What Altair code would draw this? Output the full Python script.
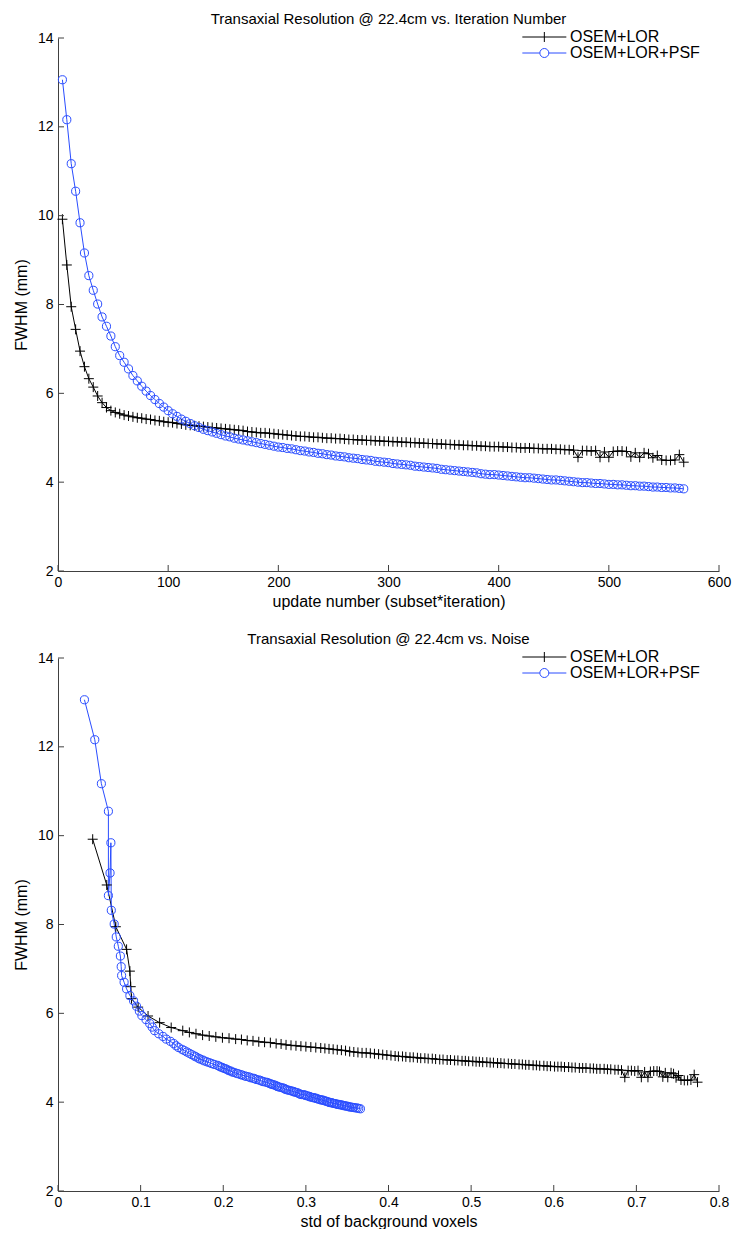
import altair as alt
import pandas as pd

SERIES = ["OSEM+LOR", "OSEM+LOR+PSF"]
UPDATE = list(range(4, 572, 4))

FWHM_LOR = [
    9.92, 8.89, 7.95, 7.44, 6.95, 6.60, 6.33, 6.14, 5.94, 5.79,
    5.68, 5.61, 5.57, 5.54, 5.51, 5.49, 5.47, 5.45, 5.44, 5.42,
    5.41, 5.39, 5.38, 5.36, 5.35, 5.34, 5.32, 5.31, 5.29, 5.28,
    5.27, 5.26, 5.25, 5.24, 5.23, 5.22, 5.21, 5.20, 5.19, 5.18,
    5.17, 5.16, 5.14, 5.13, 5.12, 5.11, 5.11, 5.10, 5.09, 5.08,
    5.07, 5.06, 5.05, 5.04, 5.03, 5.03, 5.02, 5.01, 5.01, 5.00,
    4.99, 4.99, 4.98, 4.98, 4.97, 4.96, 4.96, 4.95, 4.95, 4.94,
    4.94, 4.93, 4.93, 4.92, 4.92, 4.91, 4.91, 4.90, 4.90, 4.89,
    4.89, 4.88, 4.88, 4.87, 4.87, 4.86, 4.86, 4.85, 4.85, 4.84,
    4.84, 4.83, 4.83, 4.82, 4.82, 4.81, 4.81, 4.80, 4.80, 4.80,
    4.79, 4.79, 4.78, 4.78, 4.77, 4.77, 4.77, 4.76, 4.76, 4.75,
    4.75, 4.75, 4.74, 4.74, 4.73, 4.73, 4.72, 4.56, 4.71, 4.71,
    4.70, 4.71, 4.56, 4.68, 4.56, 4.69, 4.70, 4.70, 4.69, 4.57,
    4.66, 4.56, 4.66, 4.64, 4.55, 4.60, 4.50, 4.49, 4.49, 4.50,
    4.62, 4.45,
]

FWHM_PSF = [
    13.06, 12.16, 11.17, 10.55, 9.84, 9.16, 8.65, 8.32, 8.01, 7.72,
    7.51, 7.29, 7.05, 6.85, 6.70, 6.55, 6.40, 6.28, 6.16, 6.05,
    5.95, 5.86, 5.77, 5.69, 5.61, 5.54, 5.48, 5.42, 5.37, 5.32,
    5.27, 5.23, 5.19, 5.16, 5.13, 5.10, 5.07, 5.04, 5.02, 4.99,
    4.97, 4.95, 4.93, 4.91, 4.89, 4.87, 4.85, 4.83, 4.81, 4.79,
    4.78, 4.76, 4.75, 4.73,
    4.71, 4.70, 4.68, 4.67, 4.65, 4.64, 4.62, 4.61, 4.59, 4.58,
    4.57, 4.55, 4.54, 4.53, 4.51, 4.50, 4.49, 4.47, 4.46,
    4.45, 4.44, 4.42, 4.41, 4.40, 4.39, 4.38, 4.36, 4.35, 4.34,
    4.33, 4.32, 4.31, 4.29, 4.28, 4.27, 4.26, 4.25, 4.24, 4.23,
    4.22, 4.21, 4.19,
    4.18, 4.17, 4.17, 4.16, 4.15, 4.14, 4.13, 4.12, 4.11, 4.10,
    4.10, 4.09, 4.08, 4.07, 4.06, 4.05, 4.05, 4.04, 4.03, 4.02,
    4.01, 4.00, 3.99,
    3.99, 3.98, 3.97, 3.97, 3.96, 3.95, 3.95, 3.94, 3.94, 3.93,
    3.92, 3.92, 3.91, 3.91, 3.90, 3.89, 3.89, 3.88, 3.88, 3.87,
    3.87, 3.86, 3.85,
]

NOISE_LOR = [
    0.042, 0.059, 0.070, 0.083, 0.087, 0.088, 0.089, 0.097, 0.109, 0.123,
    0.137, 0.151,
    0.159, 0.167, 0.175, 0.183, 0.191, 0.199, 0.207, 0.215, 0.222, 0.229,
    0.236, 0.243, 0.250, 0.257, 0.264, 0.270, 0.276, 0.282, 0.288, 0.294,
    0.300, 0.306, 0.312, 0.318, 0.323, 0.328, 0.333, 0.338, 0.343, 0.348,
    0.353, 0.358, 0.363, 0.368, 0.373, 0.378, 0.383, 0.388, 0.393, 0.398,
    0.403, 0.408,
    0.412, 0.417, 0.421, 0.426, 0.430, 0.435, 0.439, 0.444, 0.448, 0.453,
    0.457, 0.462, 0.466, 0.471, 0.475, 0.480, 0.484, 0.489, 0.493,
    0.497, 0.502, 0.506, 0.510, 0.514, 0.519, 0.523, 0.527, 0.532, 0.536,
    0.540, 0.545, 0.549, 0.553, 0.558, 0.562, 0.566, 0.570, 0.575, 0.579,
    0.583, 0.588, 0.592, 0.596, 0.601, 0.605, 0.609, 0.613, 0.618, 0.622,
    0.626, 0.631, 0.635, 0.639, 0.644, 0.648, 0.652, 0.656, 0.661, 0.665,
    0.669, 0.674, 0.678, 0.682, 0.686, 0.690, 0.694, 0.698, 0.702, 0.706,
    0.710, 0.714, 0.717, 0.721, 0.725, 0.728, 0.732, 0.735, 0.738, 0.742,
    0.745, 0.748, 0.751, 0.754, 0.758, 0.762, 0.766, 0.770, 0.774,
]

NOISE_PSF = [
    0.032, 0.0445, 0.0525, 0.061, 0.064, 0.063, 0.061, 0.0645, 0.068, 0.0705,
    0.073, 0.0755, 0.0765, 0.077, 0.080, 0.083, 0.087, 0.0915, 0.095, 0.0985,
    0.1015, 0.1065, 0.111,
    0.114, 0.117, 0.122, 0.127, 0.131, 0.136, 0.140, 0.143, 0.146, 0.150,
    0.153, 0.156, 0.159, 0.162, 0.165, 0.167, 0.170, 0.172, 0.175, 0.177,
    0.180, 0.183, 0.186, 0.189, 0.193, 0.195, 0.197, 0.199, 0.201, 0.203,
    0.205, 0.207, 0.209, 0.211, 0.213, 0.216, 0.218, 0.221, 0.223, 0.226,
    0.228, 0.231, 0.233, 0.236, 0.238, 0.240, 0.243, 0.245, 0.247, 0.249,
    0.252, 0.254, 0.256, 0.258, 0.259, 0.261, 0.263, 0.265, 0.266, 0.268,
    0.270, 0.272, 0.274, 0.275, 0.277, 0.279, 0.281, 0.283, 0.285, 0.286,
    0.288, 0.290, 0.292, 0.293, 0.295, 0.297, 0.299, 0.300, 0.302, 0.304,
    0.305, 0.307, 0.309, 0.310, 0.312, 0.313, 0.315, 0.317, 0.318, 0.320,
    0.321, 0.323, 0.325, 0.326, 0.328, 0.329, 0.331, 0.332, 0.334, 0.335,
    0.337, 0.338, 0.340, 0.341, 0.343, 0.344, 0.346, 0.347, 0.349, 0.350,
    0.352, 0.353, 0.355, 0.357, 0.358, 0.360, 0.362, 0.364, 0.366,
]

X1_TICKS = [0, 100, 200, 300, 400, 500, 600]
X2_TICKS = [0, 0.1, 0.2, 0.3, 0.4, 0.5, 0.6, 0.7, 0.8]
Y_TICKS = [2, 4, 6, 8, 10, 12, 14]

n = len(UPDATE)
assert len(FWHM_LOR) == n and len(FWHM_PSF) == n
assert len(NOISE_LOR) == n and len(NOISE_PSF) == n

df = pd.DataFrame({
    "update": UPDATE + UPDATE,
    "noise": NOISE_LOR + NOISE_PSF,
    "fwhm": FWHM_LOR + FWHM_PSF,
    "series": [SERIES[0]] * n + [SERIES[1]] * n,
})

FONT = "Liberation Sans"
BLUE = "#2a4dff"
AXIS = "#404040"
W, H = 661, 533

CROSS = "M-1,0H1M0,-1V1"
# legend symbols: line segment with the marker in its middle (unit = 7.33 px)
LEG_CROSS = "M-5,0H1M-2,-0.68V0.68"
LEG_CIRC = ("M-5,0H-2.614M-1.386,0H1M-2.614,0A0.614,0.614,0,1,0,-1.386,0"
            "A0.614,0.614,0,1,0,-2.614,0")


def legend():
    return alt.Legend(title=None, orient="none", legendX=493, legendY=-9,
                      symbolSize=215, symbolStrokeWidth=1, symbolOpacity=1,
                      labelFontSize=16, labelFont=FONT, labelColor="black",
                      labelOffset=3, rowPadding=0, padding=0)


def panel(xfield, xdomain, xticks, fmt, xtitle, title):
    xs = alt.Scale(domain=xdomain, nice=False, zero=False)
    ys = alt.Scale(domain=[2, 14], nice=False, zero=False)
    xax = alt.Axis(values=xticks, format=fmt, title=xtitle, ticks=False,
                   grid=False, labelPadding=4, labelFlush=False, titlePadding=4)
    yax = alt.Axis(values=Y_TICKS, title="FWHM (mm)", ticks=False, grid=False,
                   labelPadding=5, labelFlush=False, titlePadding=8)
    X = alt.X(f"{xfield}:Q", scale=xs, axis=xax)
    Y = alt.Y("fwhm:Q", scale=ys, axis=yax)
    base = alt.Chart(df)
    lor = base.transform_filter(alt.datum.series == SERIES[0])
    psf = base.transform_filter(alt.datum.series == SERIES[1])
    lor_line = lor.mark_line(color="black", strokeWidth=1).encode(x=X, y=Y)
    lor_pts = lor.mark_point(shape=CROSS, size=100, color="black", filled=False,
                             strokeWidth=1, opacity=1).encode(x=X, y=Y)
    psf_line = psf.mark_line(color=BLUE, strokeWidth=1).encode(x=X, y=Y)
    psf_pts = psf.mark_point(shape="circle", size=66, color=BLUE, filled=False,
                             strokeWidth=1, opacity=1).encode(x=X, y=Y)
    leg = base.mark_point(filled=False, opacity=0).encode(
        x=X, y=Y,
        color=alt.Color("series:N", scale=alt.Scale(domain=SERIES, range=["black", BLUE]),
                        legend=legend()),
        shape=alt.Shape("series:N", scale=alt.Scale(domain=SERIES, range=[LEG_CROSS, LEG_CIRC]),
                        legend=legend()),
    )
    xt = alt.Chart(pd.DataFrame({"t": xticks})).mark_rule(color=AXIS, strokeWidth=1).encode(
        x=alt.X("t:Q", scale=xs, axis=xax), y=alt.value(H), y2=alt.value(H - 6))
    yt = alt.Chart(pd.DataFrame({"t": Y_TICKS})).mark_rule(color=AXIS, strokeWidth=1).encode(
        y=alt.Y("t:Q", scale=ys, axis=yax), x=alt.value(0), x2=alt.value(6))
    return alt.layer(lor_line, psf_line, lor_pts, psf_pts, leg, xt, yt).properties(
        width=W, height=H,
        title=alt.Title(title, fontSize=15, font=FONT, fontWeight="normal",
                        color="black", offset=2),
    )


top = panel("update", [0, 600], X1_TICKS, "d", "update number (subset*iteration)",
            "Transaxial Resolution @ 22.4cm vs. Iteration Number")
bottom = panel("noise", [0, 0.8], X2_TICKS, "~g", "std of background voxels",
               "Transaxial Resolution @ 22.4cm vs. Noise")

chart = alt.vconcat(top, bottom, spacing=23).resolve_scale(
    x="independent", y="independent", color="independent", shape="independent"
).resolve_legend(color="independent", shape="independent").properties(
    padding={"left": 5, "top": 4, "right": 5, "bottom": 0}
).configure_view(stroke=None).configure_axis(
    domainColor=AXIS, domainWidth=1, labelFont=FONT, labelFontSize=14,
    labelColor="black", titleFont=FONT, titleFontSize=16, titleFontWeight="normal",
    titleColor="black",
)

chart.save("out.html", embed_options={"renderer": "svg", "actions": False})
